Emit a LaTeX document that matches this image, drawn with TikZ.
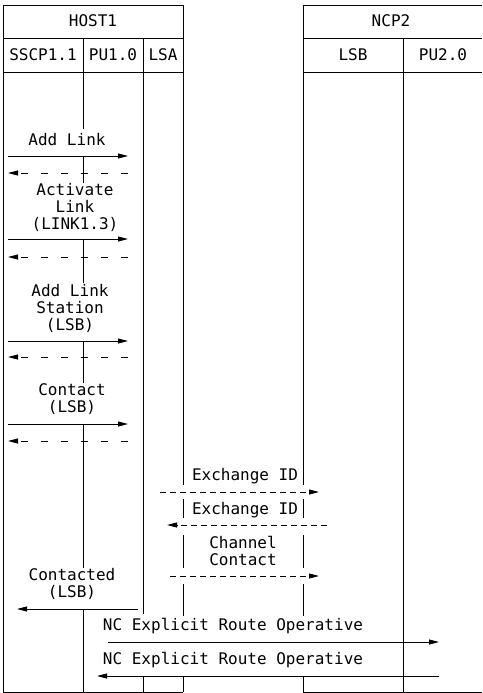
\documentclass[tikz,border=0pt]{standalone}
\usepackage{fontspec}
\newfontfamily\diagmono{DejaVu Sans Mono}
\usetikzlibrary{arrows.meta}
\begin{document}
\begin{tikzpicture}[x=1pt,y=-1pt,
  life/.style={line width=0.9pt},
  msg/.style={line width=0.9pt,-{Triangle[length=10pt,width=5pt]}},
  reply/.style={msg,dash pattern=on 7pt off 13pt},
  xid/.style={msg,dash pattern=on 6pt off 4pt},
  lbl/.style={font=\diagmono\fontsize{16}{17}\selectfont,inner sep=0pt,align=center}]
\useasboundingbox (0,0) rectangle (482,693);

% frames
\draw[life] (3,5) -- (183,5) (303,5) -- (482,5);
\draw[life] (3,38) -- (183,38) (303,38) -- (482,38);
\draw[life] (3,72) -- (183,72) (303,72) -- (482,72);
\draw[life] (3,692) -- (183,692) (303,692) -- (482,692);
\draw[life] (3,5) -- (3,692);
\draw[life] (403,38) -- (403,692);
% PU1.0 lifeline
\draw[life] (83,38) -- (83,129) (83,156) -- (83,183) (83,239) -- (83,283)
  (83,341) -- (83,383) (83,424) -- (83,568) (83,609) -- (83,692);
% LSA divider
\draw[life] (143,38) -- (143,614) (143,677) -- (143,692);
% LSA / LSB lifelines
\foreach \x in {183,303}
  \draw[life] (\x,5) -- (\x,485) (\x,499) -- (\x,518) (\x,535) -- (\x,568)
    (\x,584) -- (\x,616) (\x,677) -- (\x,692);

% headers
\node[lbl] (host) at (93,21) {HOST1};
\node[lbl] (ncp) at (391,21) {NCP2};
\node[lbl] (sscp) at (43,55) {SSCP1.1};
\node[lbl] (pu1) at (113,55) {PU1.0};
\node[lbl] (lsa) at (163,55) {LSA};
\node[lbl] (lsb) at (353,55) {LSB};
\node[lbl] (pu2) at (443,55) {PU2.0};

% labels
\node[lbl] (t1) at (67,140) {Add Link};
\node[lbl] (t2) at (75,207) {Activate\\Link\\(LINK1.3)};
\node[lbl] (t3) at (70,308) {Add Link\\Station\\(LSB)};
\node[lbl] (t4) at (72,399) {Contact\\(LSB)};
\node[lbl] (t5) at (245,476) {Exchange ID};
\node[lbl] (t6) at (245,510) {Exchange ID};
\node[lbl] (t7) at (243,551) {Channel\\Contact};
\node[lbl] (t8) at (72,584) {Contacted\\(LSB)};
\node[lbl] (t9) at (233,626) {NC Explicit Route Operative};
\node[lbl] (t10) at (233,660) {NC Explicit Route Operative};

% arrow end points
\coordinate (l1) at (8,156);   \coordinate (r1) at (128,156);
\coordinate (l2) at (8,173);   \coordinate (r2) at (128,173);
\coordinate (l3) at (8,239);   \coordinate (r3) at (128,239);
\coordinate (l4) at (8,257);   \coordinate (r4) at (128,257);
\coordinate (l5) at (8,341);   \coordinate (r5) at (128,341);
\coordinate (l6) at (8,357);   \coordinate (r6) at (128,357);
\coordinate (l7) at (8,424);   \coordinate (r7) at (128,424);
\coordinate (l8) at (8,441);   \coordinate (r8) at (128,441);
\coordinate (x1a) at (160,492); \coordinate (x1b) at (319,492);
\coordinate (x2a) at (327,525); \coordinate (x2b) at (167,525);
\coordinate (x3a) at (170,576); \coordinate (x3b) at (319,576);
\coordinate (c1a) at (138,609); \coordinate (c1b) at (17,609);
\coordinate (n1a) at (108,642); \coordinate (n1b) at (439,642);
\coordinate (n2a) at (439,676); \coordinate (n2b) at (97,676);

\draw[msg] (l1) -- (r1);
\draw[reply] (r2) -- (l2);
\draw[msg] (l3) -- (r3);
\draw[reply] (r4) -- (l4);
\draw[msg] (l5) -- (r5);
\draw[reply] (r6) -- (l6);
\draw[msg] (l7) -- (r7);
\draw[reply] (r8) -- (l8);
\draw[xid] (x1a) -- (x1b);
\draw[xid] (x2a) -- (x2b);
\draw[xid] (x3a) -- (x3b);
\draw[msg] (c1a) -- (c1b);
\draw[msg] (n1a) -- (n1b);
\draw[msg] (n2a) -- (n2b);
\end{tikzpicture}
\end{document}
